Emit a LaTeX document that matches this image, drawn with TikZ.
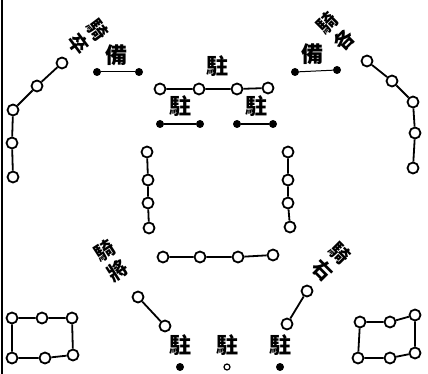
\documentclass[tikz,border=0pt]{standalone}
\usepackage{fontspec}
\newfontfamily\cjk{Noto Sans CJK TC}
\begin{document}
\begin{tikzpicture}[
  x=1pt, y=-1pt,
  ring/.style={circle, draw, line width=1.8pt, minimum size=11pt, inner sep=0pt},
  smallring/.style={ring, minimum size=6pt, line width=1.2pt},
  dot/.style={circle, fill, minimum size=8pt, inner sep=0pt},
  link/.style={line width=1.8pt},
  glyph/.style={font=\cjk\bfseries\fontsize{22}{22}\selectfont, inner sep=0pt},
  column/.style={glyph, align=center, font=\cjk\bfseries\fontsize{20}{24}\selectfont},
]
  \useasboundingbox (0,0) rectangle (428,374);
  % scan border at the left edge
  \coordinate (edgetop) at (1.5,0);
  \coordinate (edgebot) at (1.5,374);
  \draw[line width=2pt] (edgetop) -- (edgebot);

  % top-left wing
  \foreach \n/\p in {1/{(62,63)}, 2/{(37,86)}, 3/{(13,110)}, 4/{(12,143)}, 5/{(13,177)}}
    \node[ring] (tl\n) at \p {};
  \draw[link] (tl1) -- (tl2) -- (tl3) -- (tl4) -- (tl5);
  \node[column, rotate=-53] (tllab) at (88,37) {騎\\卒};

  % top-right wing
  \foreach \n/\p in {1/{(367,61)}, 2/{(392,81)}, 3/{(413,102)}, 4/{(415,133)}, 5/{(413,168)}}
    \node[ring] (tr\n) at \p {};
  \draw[link] (tr1) -- (tr2) -- (tr3) -- (tr4) -- (tr5);
  \node[column, rotate=45] (trlab) at (336,32) {騎\\各};

  % reserves
  \node[glyph] (bei1) at (116,55) {備};
  \node[dot] (da) at (97,72) {};
  \node[dot] (db) at (139,72) {};
  \draw[line width=1pt] (da) -- (db);
  \node[glyph] (bei2) at (312,54) {備};
  \node[dot] (dc) at (295,72) {};
  \node[dot] (dd) at (337,70) {};
  \draw[line width=1pt] (dc) -- (dd);

  % front row with its posts
  \node[glyph] (zhu0) at (217,66) {駐};
  \foreach \n/\p in {1/{(160,89)}, 2/{(199,89)}, 3/{(237,89)}, 4/{(268,88)}}
    \node[ring] (tc\n) at \p {};
  \draw[link] (tc1) -- (tc2) -- (tc3) -- (tc4);
  \node[glyph] (zhu1) at (180,106) {駐};
  \node[glyph] (zhu2) at (256,106) {駐};
  \node[dot] (de) at (160,124) {};
  \node[dot] (df) at (200,124) {};
  \node[dot] (dg) at (237,124) {};
  \node[dot] (dh) at (273,124) {};
  \draw[line width=1.2pt] (de) -- (df);
  \draw[line width=1.2pt] (dg) -- (dh);

  % centre square
  \foreach \n/\p in {1/{(147,152)}, 2/{(148,180)}, 3/{(148,203)}, 4/{(149,228)}}
    \node[ring] (cl\n) at \p {};
  \foreach \n/\p in {1/{(288,152)}, 2/{(288,180)}, 3/{(288,203)}, 4/{(290,227)}}
    \node[ring] (cr\n) at \p {};
  \foreach \n/\p in {1/{(163,257)}, 2/{(200,257)}, 3/{(238,257)}, 4/{(273,255)}}
    \node[ring] (cb\n) at \p {};
  \draw[link] (cl1) -- (cl2) -- (cl3) -- (cl4);
  \draw[link] (cr1) -- (cr2) -- (cr3) -- (cr4);
  \draw[link] (cb1) -- (cb2) -- (cb3) -- (cb4);

  % rear wings
  \node[column, rotate=33] (lllab) at (111,261) {騎\\將};
  \node[ring] (ll1) at (138,297) {};
  \node[ring] (ll2) at (165,326) {};
  \draw[link] (ll1) -- (ll2);
  \node[column, rotate=-45] (lrlab) at (331,262) {騎\\右};
  \node[ring] (lr1) at (307,291) {};
  \node[ring] (lr2) at (287,324) {};
  \draw[link] (lr1) -- (lr2);

  % rear posts
  \node[glyph] (zhu3) at (180,345) {駐};
  \node[glyph] (zhu4) at (227,345) {駐};
  \node[glyph] (zhu5) at (280,345) {駐};
  \node[dot] (bd1) at (180,367) {};
  \node[smallring] (bd2) at (227,367) {};
  \node[dot] (bd3) at (280,367) {};

  % corner boxes
  \foreach \n/\p in {1/{(12,318)}, 2/{(42,318)}, 3/{(72,318)}, 4/{(12,358)}, 5/{(45,358)}, 6/{(73,355)}}
    \node[ring] (bl\n) at \p {};
  \draw[link] (bl1) -- (bl2) -- (bl3) -- (bl6) -- (bl5) -- (bl4) -- (bl1);
  \foreach \n/\p in {1/{(360,322)}, 2/{(390,322)}, 3/{(415,315)}, 4/{(358,358)}, 5/{(390,358)}, 6/{(415,353)}}
    \node[ring] (br\n) at \p {};
  \draw[link] (br1) -- (br2) -- (br3) -- (br6) -- (br5) -- (br4) -- (br1);
\end{tikzpicture}
\end{document}
